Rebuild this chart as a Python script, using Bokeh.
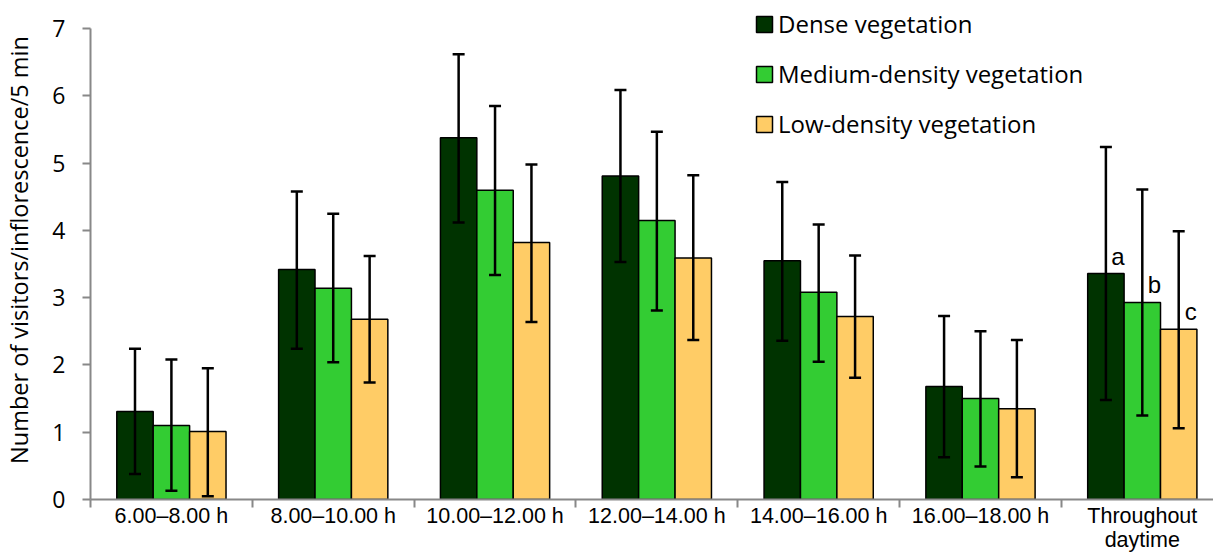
from bokeh.plotting import figure
from bokeh.models import ColumnDataSource, Range1d, FixedTicker, Whisker, TeeHead, Legend, LegendItem
from bokeh.transform import dodge
from bokeh.core.properties import value
from bokeh.embed import file_html
from bokeh.resources import INLINE

categories = ["6.00–8.00 h", "8.00–10.00 h", "10.00–12.00 h", "12.00–14.00 h",
              "14.00–16.00 h", "16.00–18.00 h", "Throughout\ndaytime"]
series_names = ["Dense vegetation", "Medium-density vegetation", "Low-density vegetation"]
dense = [1.31, 3.42, 5.38, 4.81, 3.55, 1.68, 3.36]
dense_lo = [0.38, 2.24, 4.12, 3.53, 2.36, 0.63, 1.48]
dense_hi = [2.24, 4.58, 6.62, 6.09, 4.72, 2.73, 5.24]
medium = [1.10, 3.14, 4.60, 4.15, 3.08, 1.50, 2.93]
medium_lo = [0.13, 2.04, 3.34, 2.81, 2.05, 0.49, 1.25]
medium_hi = [2.08, 4.25, 5.85, 5.47, 4.09, 2.50, 4.61]
low = [1.01, 2.68, 3.82, 3.59, 2.72, 1.35, 2.53]
low_lo = [0.05, 1.74, 2.64, 2.37, 1.81, 0.33, 1.06]
low_hi = [1.95, 3.62, 4.98, 4.82, 3.63, 2.37, 3.99]
letters = ["a", "b", "c"]
y_ticks = [0, 1, 2, 3, 4, 5, 6, 7]

colors = ["#003300", "#33CC33", "#FFCC66"]
offsets = [-0.225, 0.0, 0.225]
bar_w = 0.225

xs = list(range(len(categories)))
src = ColumnDataSource(dict(x=xs, dense=dense, dense_lo=dense_lo, dense_hi=dense_hi,
                            medium=medium, medium_lo=medium_lo, medium_hi=medium_hi,
                            low=low, low_lo=low_lo, low_hi=low_hi))

p = figure(width=1213, height=555, output_backend="svg", toolbar_location=None,
           x_range=Range1d(-0.5, 6.44), y_range=Range1d(0, 7.42),
           min_border_left=89, min_border_right=0, min_border_top=0, min_border_bottom=56)
p.outline_line_color = None
p.grid.visible = False
p.background_fill_color = "white"

keys = ["dense", "medium", "low"]
items = []
for name, key, color, off in zip(series_names, keys, colors, offsets):
    r = p.vbar(x=dodge("x", off), top=key, bottom=0, width=bar_w, source=src,
               fill_color=color, line_color="black", line_width=1.5)
    w = Whisker(base=dodge("x", off), lower=key + "_lo", upper=key + "_hi", source=src,
                line_color="black", line_width=2.5, level="overlay",
                upper_head=TeeHead(size=12, line_width=2.5, line_color="black"),
                lower_head=TeeHead(size=12, line_width=2.5, line_color="black"))
    p.add_layout(w)
    items.append(LegendItem(label=name, renderers=[r]))

# significance letters for the last group
last = len(categories) - 1
letter_src = ColumnDataSource(dict(x=[last + o for o in offsets],
                                   y=[dense[last], medium[last], low[last]],
                                   t=letters))
p.text(x="x", y="y", text="t", source=letter_src, x_offset=12, y_offset=-4,
       text_align="center", text_baseline="bottom",
       text_font=value("Liberation Sans"), text_font_size="24px", text_color="black")

legend = Legend(items=items, location=(664, 359), orientation="vertical",
                glyph_width=20, glyph_height=20, label_standoff=4, spacing=17,
                padding=0, margin=0, border_line_color=None, background_fill_alpha=0,
                label_text_font="Open Sans", label_text_font_size="24px",
                label_text_color="black")
p.add_layout(legend)

xa = p.xaxis[0]
xa.ticker = FixedTicker(ticks=xs, minor_ticks=[i - 0.5 for i in range(len(categories) + 1)])
xa.major_label_overrides = {i: c for i, c in enumerate(categories)}
xa.major_tick_line_color = None
xa.major_tick_out = 0
xa.major_tick_in = 0
xa.minor_tick_in = 0
xa.minor_tick_out = 8
xa.minor_tick_line_color = "#888888"
xa.minor_tick_line_width = 2
xa.axis_line_color = "#888888"
xa.axis_line_width = 2
xa.major_label_standoff = -4
xa.major_label_text_font = "Liberation Sans"
xa.major_label_text_font_size = "21.5px"
xa.major_label_text_color = "black"
xa.major_label_text_line_height = 1.0

ya = p.yaxis[0]
ya.ticker = FixedTicker(ticks=y_ticks, minor_ticks=[])
ya.bounds = (0, 7)
ya.major_tick_out = 8
ya.major_tick_in = 0
ya.major_tick_line_color = "#888888"
ya.major_tick_line_width = 2
ya.axis_line_color = "#888888"
ya.axis_line_width = 2
ya.major_label_standoff = 17
ya.major_label_text_font = "Open Sans"
ya.major_label_text_font_size = "23px"
ya.major_label_text_color = "black"
ya.axis_label = "Number of visitors/inflorescence/5 min"
ya.axis_label_standoff = 14
ya.axis_label_text_font = "Open Sans"
ya.axis_label_text_font_size = "23.5px"
ya.axis_label_text_font_style = "normal"
ya.axis_label_text_color = "black"

open("out.html", "w").write(file_html(p, INLINE))
